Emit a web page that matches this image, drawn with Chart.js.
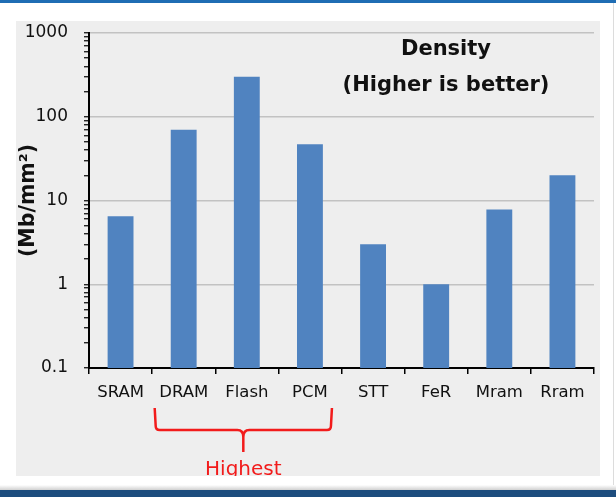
<!DOCTYPE html>
<html>
<head>
<meta charset="utf-8">
<script src="https://cdn.jsdelivr.net/npm/chart.js@4/dist/chart.umd.min.js"></script>
<style>
  html, body { margin: 0; padding: 0; background: #fff; }
  body { width: 616px; height: 497px; position: relative; overflow: hidden; }
  .topbar { position: absolute; left: 0; top: 0; width: 616px; height: 3px; background: #1f6db4; }
  .edge { position: absolute; left: 613px; top: 3px; width: 1px; height: 485px; background: #dcdcdc; }
  .shadow { position: absolute; left: 0; top: 485px; width: 616px; height: 5px; background: linear-gradient(#fff, #d0d0d0); }
  .bottombar { position: absolute; left: 0; top: 490px; width: 616px; height: 7px; background: #1d4d7e; }
  .panel { position: absolute; left: 16px; top: 21px; width: 584px; height: 455px; background: #eeeeee; }
  canvas { display: block; }
</style>
</head>
<body>
<div class="topbar"></div>
<div class="edge"></div>
<div class="panel"><canvas id="densityChart" width="584" height="455"></canvas></div>
<div class="shadow"></div>
<div class="bottombar"></div>

<script>
// ========= Data =========
const categories = ["SRAM", "DRAM", "Flash", "PCM", "STT", "FeR", "Mram", "Rram"];
const density = [6.5, 70, 300, 47, 3, 1, 7.8, 20];   // Mb/mm²
const decades = [0.1, 1, 10, 100, 1000];
const decadeLabels = ["0.1", "1", "10", "100", "1000"];
const minorSteps = [2, 3, 4, 5, 6, 7, 8, 9];
const titleLines = ["Density", "(Higher is better)"];
const highlight = { from: "DRAM", to: "PCM", label: "Highest" };

const FONT = "'DejaVu Sans', sans-serif";

function isDecade(v) {
  return decades.some((d) => Math.abs(d - v) < d * 1e-6);
}

/* ========= Plugins ========= */
// title sits inside the plot area, upper right
const innerTitle = {
  id: "innerTitle",
  afterDraw(chart) {
    const { ctx } = chart;
    ctx.save();
    ctx.fillStyle = "#111";
    ctx.font = "bold 21px " + FONT;
    ctx.textAlign = "center";
    ctx.textBaseline = "middle";
    ctx.fillText(titleLines[0], 430, 29);
    ctx.fillText(titleLines[1], 430, 65);
    ctx.restore();
  }
};

// red curly bracket under DRAM..PCM
const bracket = {
  id: "bracket",
  afterDraw(chart) {
    const { ctx } = chart;
    const xs = chart.scales.x;
    const L = xs.getPixelForValue(categories.indexOf(highlight.from)) - 29;
    const R = xs.getPixelForValue(categories.indexOf(highlight.to)) + 22;
    const C = (L + R) / 2;
    const top = 387, H = 409, B = 431;

    ctx.save();
    ctx.strokeStyle = "#f21b1b";
    ctx.lineWidth = 2.5;
    ctx.lineJoin = "round";
    ctx.beginPath();
    ctx.moveTo(L, top);
    ctx.lineTo(L + 1, H - 4);
    ctx.quadraticCurveTo(L + 1, H, L + 5, H);
    ctx.lineTo(C - 6, H);
    ctx.quadraticCurveTo(C, H, C, H + 7);
    ctx.lineTo(C, B);
    ctx.moveTo(C, H + 7);
    ctx.quadraticCurveTo(C, H, C + 6, H);
    ctx.lineTo(R - 5, H);
    ctx.quadraticCurveTo(R - 1, H, R - 1, H - 4);
    ctx.lineTo(R, top);
    ctx.stroke();

    ctx.fillStyle = "#f21b1b";
    ctx.font = "20px " + FONT;
    ctx.textAlign = "center";
    ctx.textBaseline = "alphabetic";
    ctx.fillText(highlight.label, C, 454);
    ctx.restore();
  }
};

/* ========= Chart ========= */
function densityChart() {
  const el = document.getElementById("densityChart");
  if (!el) return;
  const ctx = el.getContext("2d");

  new Chart(ctx, {
    type: "bar",
    data: {
      labels: categories,
      datasets: [{
        label: "Density",
        data: density,
        backgroundColor: "#5083c0",
        borderWidth: 0,
        barPercentage: 0.41,
        categoryPercentage: 1
      }]
    },
    options: {
      responsive: false,
      animation: false,
      layout: { padding: { top: 12, right: 6, left: 0, bottom: 0 } },
      plugins: {
        legend: { display: false },
        tooltip: { enabled: false }
      },
      scales: {
        x: {
          afterFit: (s) => { s.height = 108; s.paddingLeft = 0; s.paddingRight = 0; },
          border: { color: "#000", width: 2 },
          grid: {
            drawOnChartArea: false,
            drawTicks: true,
            tickLength: 6,
            color: "#000",
            lineWidth: 1.5
          },
          ticks: {
            color: "#111",
            font: { family: FONT, size: 16.5 },
            padding: 9,
            maxRotation: 0,
            autoSkip: false
          }
        },
        y: {
          type: "logarithmic",
          min: decades[0],
          max: decades[decades.length - 1],
          afterFit: (s) => { s.width = 73; s.paddingTop = 0; s.paddingBottom = 0; },
          afterBuildTicks: (s) => {
            const list = [];
            decades.forEach((d, i) => {
              list.push({ value: d, major: true });
              if (i < decades.length - 1) minorSteps.forEach((m) => list.push({ value: d * m, major: false }));
            });
            s.ticks = list;
          },
          border: { color: "#000", width: 2 },
          grid: {
            color: (c) => (c.tick && isDecade(c.tick.value) ? "#c2c2c2" : "rgba(0,0,0,0)"),
            tickColor: "#000",
            lineWidth: 1.5,
            tickWidth: 1.2,
            tickLength: 5
          },
          ticks: {
            autoSkip: false,
            color: "#111",
            font: { family: FONT, size: 17 },
            padding: 16,
            callback: (v) => {
              const i = decades.findIndex((d) => Math.abs(d - v) < d * 1e-6);
              return i >= 0 ? decadeLabels[i] : "";
            }
          },
          title: {
            display: true,
            text: "(Mb/mm²)",
            color: "#111",
            font: { family: FONT, size: 20.5, weight: "bold" },
            padding: { top: 0, bottom: 0 }
          }
        }
      }
    },
    plugins: [innerTitle, bracket]
  });
}

window.addEventListener("load", densityChart);
</script>
</body>
</html>
